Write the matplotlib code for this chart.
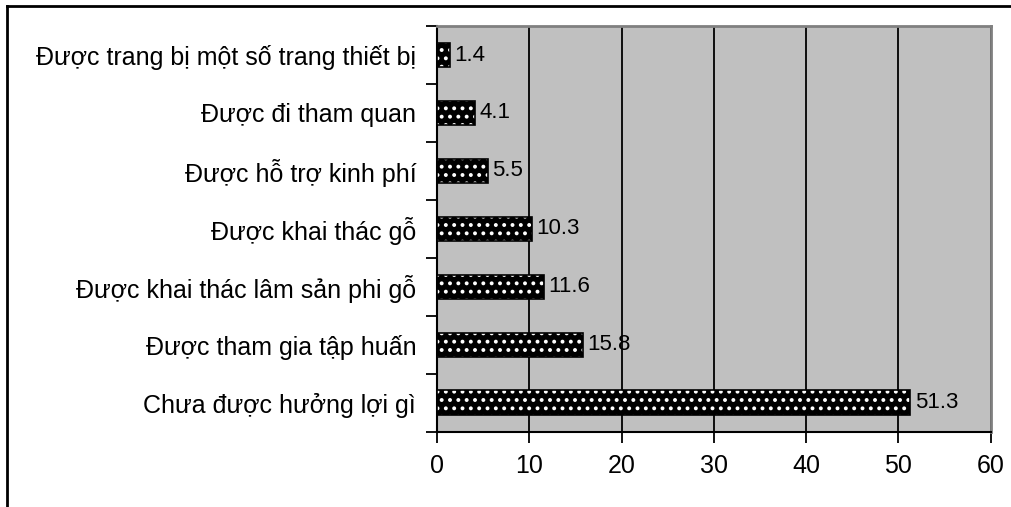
import matplotlib.pyplot as plt
from matplotlib.lines import Line2D
import numpy as np

plt.rcParams['font.family'] = ['Liberation Sans', 'DejaVu Sans']
plt.rcParams['hatch.linewidth'] = 1.6

categories = ['Chưa được hưởng lợi gì', 'Được tham gia tập huấn',
              'Được khai thác lâm sản phi gỗ', 'Được khai thác gỗ',
              'Được hỗ trợ kinh phí', 'Được đi tham quan',
              'Được trang bị một số trang thiết bị']
values = [51.3, 15.8, 11.6, 10.3, 5.5, 4.1, 1.4]
xticks = [0, 10, 20, 30, 40, 50, 60]

fig = plt.figure(figsize=(10.12, 5.07), dpi=100)
ax = fig.add_axes([0.4318, 0.148, 0.979 - 0.4318, 0.9487 - 0.148])
ax.set_facecolor('#C0C0C0')

y = np.arange(len(categories))
# dotted fill: black face, white hatch dots
ax.barh(y, values, height=0.43, color='black', edgecolor='white',
        hatch='..', linewidth=0, zorder=3)
ax.barh(y, values, height=0.43, fill=False, edgecolor='black',
        linewidth=1.2, zorder=4)

for yi, v in zip(y, values):
    ax.text(v + 0.5, yi, f'{v}', va='center', ha='left', fontsize=16, zorder=5)

ax.set_xlim(0, 60)
ax.set_ylim(-0.5, len(categories) - 0.5)
ax.set_xticks(xticks)
ax.set_xticklabels([str(t) for t in xticks], fontsize=18)
ax.xaxis.grid(True, color='black', linewidth=1.3, zorder=1)
ax.set_axisbelow(True)

# category ticks sit between bars
ax.set_yticks(np.arange(len(categories) + 1) - 0.5)
ax.set_yticklabels([])
ax.set_yticks(y, minor=True)
ax.set_yticklabels(categories, minor=True, fontsize=18)
ax.tick_params(axis='y', which='minor', length=0, pad=15)
ax.tick_params(axis='y', which='major', length=8, width=1.3, direction='out')
ax.tick_params(axis='x', length=8, width=1.3, direction='out', pad=8)

for s in ['top', 'right']:
    ax.spines[s].set_color('#808080')
    ax.spines[s].set_linewidth(2)
for s in ['left', 'bottom']:
    ax.spines[s].set_color('black')
    ax.spines[s].set_linewidth(1.5)

# outer frame (left and top edges visible)
fig.add_artist(Line2D([7 / 1012, 7 / 1012], [0, 1 - 6 / 507], color='black', linewidth=2))
fig.add_artist(Line2D([7 / 1012, 1], [1 - 6 / 507, 1 - 6 / 507], color='black', linewidth=2))

fig.savefig('out.png', dpi=100)
